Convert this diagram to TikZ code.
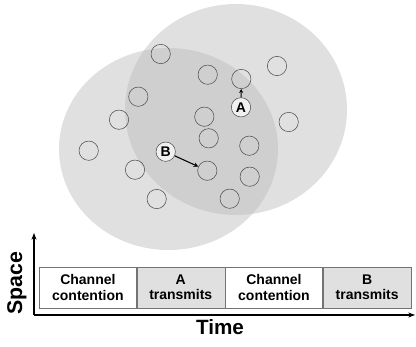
\documentclass[tikz,border=0pt]{standalone}
\usepackage{fontspec}
\setmainfont{Liberation Sans}
\usetikzlibrary{arrows.meta}

\begin{document}
\begin{tikzpicture}[x=0.75pt,y=-0.75pt,
  reach/.style={fill=black!12,draw=none},
  both/.style={fill=black!19,draw=none},
  station/.style={circle,draw=black!70,thin,minimum size=14.5pt,inner sep=0pt},
  sender/.style={station,fill=black!6,font=\bfseries\fontsize{10.5}{11}\selectfont},
  slot/.style={draw=black!55,minimum height=30.75pt,align=center,inner sep=0pt,font=\bfseries\fontsize{10.5}{11.5}\selectfont},
  busy/.style={slot,fill=black!12}]
 \useasboundingbox (0,0) rectangle (416,346);
 % ranges of A and B
 \fill[reach] (236,109.5) ellipse [x radius=111,y radius=105.5];
 \fill[reach] (168.5,149) ellipse [x radius=109.5,y radius=101];
 \begin{scope}
  \clip (236,109.5) ellipse [x radius=111,y radius=105.5];
  \fill[both] (168.5,149) ellipse [x radius=109.5,y radius=101];
 \end{scope}
 % stations
 \node[station] (n1) at (160.7,54) {};
 \node[station] (n2) at (207.7,74.7) {};
 \node[station] (n3) at (241.3,79) {};
 \node[station] (n4) at (277,66) {};
 \node[station] (n5) at (138.3,96.7) {};
 \node[station] (n6) at (119,119.7) {};
 \node[station] (n8) at (204.3,116.7) {};
 \node[station] (n9) at (288.7,122) {};
 \node[station] (n10) at (208.7,138.3) {};
 \node[station] (n11) at (249.3,145.7) {};
 \node[station] (n12) at (88.7,150.7) {};
 \node[station] (n14) at (135,169.7) {};
 \node[station] (n15) at (207.3,170.7) {};
 \node[station] (n16) at (249.7,176.7) {};
 \node[station] (n17) at (156.7,199) {};
 \node[station] (n18) at (229.7,198.7) {};
 \node[sender] (A) at (241,107.3) {A};
 \node[sender] (B) at (165.7,151.7) {B};
 \draw[thick,-{Stealth[length=3pt,width=3pt]}] (A) -- (n3);
 \draw[thick,-{Stealth[length=3.5pt,width=3.5pt]}] (B) -- (n15);
 % time line
 \coordinate (orig) at (34,315);
 \coordinate (ytop) at (34,233);
 \coordinate (xend) at (415,315);
 \draw[thick,-{Stealth[length=5pt]}] (orig) -- (ytop);
 \draw[thick,-{Stealth[length=5pt]}] (orig) -- (xend);
 \node[slot,minimum width=72.5pt,anchor=south west] (s1) at (39.3,308.3) {Channel\\contention};
 \node[busy,minimum width=66pt,anchor=west] (s2) at (s1.east) {A\\transmits};
 \node[slot,minimum width=73pt,anchor=west] (s3) at (s2.east) {Channel\\contention};
 \node[busy,minimum width=66pt,anchor=west] (s4) at (s3.east) {B\\transmits};
 \node[rotate=90,font=\bfseries\fontsize{16}{17}\selectfont] (space) at (17,283) {Space};
 \node[font=\bfseries\fontsize{15.5}{16}\selectfont] (time) at (220,327) {Time};
\end{tikzpicture}
\end{document}
